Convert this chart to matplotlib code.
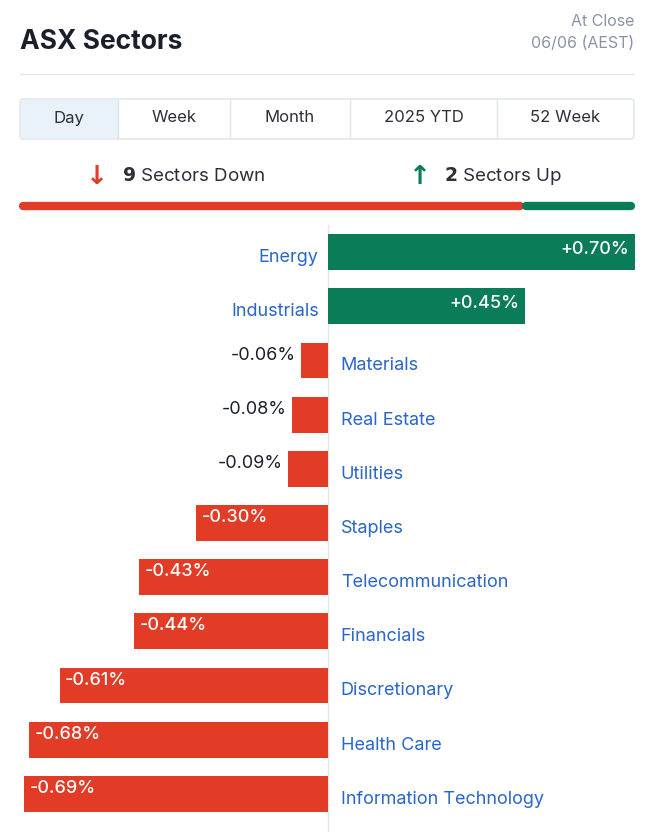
import matplotlib
matplotlib.use("Agg")
import matplotlib.pyplot as plt
from matplotlib.patches import Rectangle, FancyBboxPatch
from matplotlib.lines import Line2D

sectors = ["Energy", "Industrials", "Materials", "Real Estate", "Utilities", "Staples",
           "Telecommunication", "Financials", "Discretionary", "Health Care", "Information Technology"]
values = [0.70, 0.45, -0.06, -0.08, -0.09, -0.30, -0.43, -0.44, -0.61, -0.68, -0.69]
tabs = ["Day", "Week", "Month", "2025 YTD", "52 Week"]
n_down, n_up = 9, 2

RED = "#E23B26"; GREEN = "#0B7C58"; BLUE = "#2A66C9"; DARK = "#1a1f2b"; GREY = "#8a94a6"
FONT = "Inter"
W, H = 650, 832
fig = plt.figure(figsize=(6.5, 8.32), dpi=100)

def fx(x): return x / W
def fy(y): return 1 - y / H

fig.text(fx(20), fy(42), "ASX Sectors", fontsize=19, fontweight="bold", color=DARK, family=FONT, va="center")
fig.text(fx(634), fy(21), "At Close", fontsize=11.5, color=GREY, family=FONT, ha="right", va="center")
fig.text(fx(634), fy(44), "06/06 (AEST)", fontsize=11.5, color=GREY, family=FONT, ha="right", va="center")
fig.add_artist(Line2D([fx(20), fx(634)], [fy(74), fy(74)], color="#e3e7ec", lw=1))

# tabs
edges = [20, 118, 230, 350, 497, 634]
fig.add_artist(FancyBboxPatch((fx(20), fy(139)), fx(614), 40 / H, boxstyle="round,pad=0,rounding_size=0.005",
                              fc="white", ec="#dde3ea", lw=1, transform=fig.transFigure))
fig.add_artist(Rectangle((fx(21), fy(138)), fx(97), 38 / H, fc="#e9f1f9", ec="none", transform=fig.transFigure))
for i, t in enumerate(tabs):
    if 0 < i:
        fig.add_artist(Line2D([fx(edges[i])] * 2, [fy(100), fy(138)], color="#dde3ea", lw=1))
    fig.text(fx((edges[i] + edges[i + 1]) / 2), fy(118), t, fontsize=12, color="#2b2f38",
             family=FONT, ha="center", va="center")

# summary
fig.text(fx(97), fy(177), "\u2193", fontsize=19, color=RED, fontweight="bold", ha="center", va="center", family="DejaVu Sans")
fig.text(fx(122), fy(176), f"$\\bf{{{n_down}}}$ Sectors Down", fontsize=13.5, color="#2b2f38", family=FONT, va="center")
fig.text(fx(420), fy(177), "\u2191", fontsize=19, color=GREEN, fontweight="bold", ha="center", va="center", family="DejaVu Sans")
fig.text(fx(444), fy(176), f"$\\bf{{{n_up}}}$ Sectors Up", fontsize=13.5, color="#2b2f38", family=FONT, va="center")
split = 20 + (634 - 20) * n_down / (n_down + n_up)
fig.add_artist(Line2D([fx(23), fx(split - 2)], [fy(206)] * 2, color=RED, lw=6, solid_capstyle="round"))
fig.add_artist(Line2D([fx(split + 4), fx(631)], [fy(206)] * 2, color=GREEN, lw=6, solid_capstyle="round"))

# bars
ax = fig.add_axes([fx(20), fy(821), fx(615), (821 - 225) / H])
ax.set_xlim(-0.70, 0.70)
ax.set_ylim(len(sectors) - 0.5, -0.5)
ax.axis("off")
ax.axvline(0, color="#e3e7ec", lw=1, ymin=-0.02, zorder=0, clip_on=False)
ys = list(range(len(sectors)))
ax.barh(ys, values, height=0.66, color=[GREEN if v > 0 else RED for v in values], zorder=2)
for y, name, v in zip(ys, sectors, values):
    lab = f"{v:+.2f}%"
    ty = y + 0.1
    if v > 0:
        ax.text(-0.02, ty, name, ha="right", va="center", fontsize=13, color=BLUE, family=FONT)
        ax.text(v - 0.013, y - 0.05, lab, ha="right", va="center", fontsize=13, color="white", family=FONT, fontweight="medium")
    else:
        ax.text(0.03, ty, name, ha="left", va="center", fontsize=13, color=BLUE, family=FONT)
        if abs(v) < 0.2:
            ax.text(v - 0.013, y - 0.1, lab, ha="right", va="center", fontsize=13, color=DARK, family=FONT)
        else:
            ax.text(v + 0.013, y - 0.1, lab, ha="left", va="center", fontsize=13, color="white", family=FONT, fontweight="medium")

fig.savefig("out.png", dpi=100, facecolor="white")
